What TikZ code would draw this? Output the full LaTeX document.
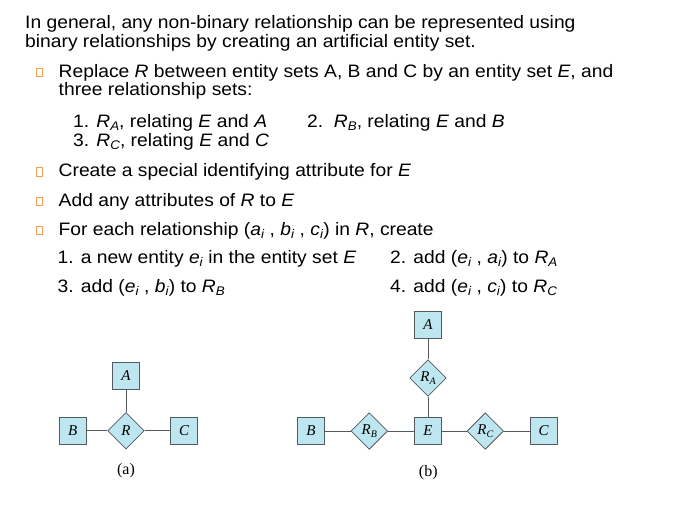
\documentclass[tikz,border=0pt]{standalone}
\usepackage{fontspec}
\setmainfont{Liberation Sans}[FakeStretch=1.07]
\newfontfamily\dfont{Liberation Serif}
\usetikzlibrary{shapes.geometric}
\definecolor{erfill}{RGB}{190,230,240}
\definecolor{erline}{RGB}{80,90,95}
\definecolor{bulletc}{RGB}{245,160,80}
\newcommand\sbs[1]{\raisebox{-0.32ex}{\fontsize{12.5}{12.5}\selectfont #1}}
\newcommand\dsb[1]{\raisebox{-0.4ex}{\fontsize{10}{10}\selectfont #1}}
\tikzset{
  txt/.style={anchor=base west, inner sep=0pt, font=\fontsize{18}{20}\selectfont},
  bul/.style={draw=bulletc, line width=0.9pt},
  ent/.style={draw=erline, fill=erfill, line width=0.8pt, minimum size=27pt, inner sep=0pt, font=\dfont\fontsize{15}{15}\selectfont\itshape},
  rel/.style={diamond, aspect=1, draw=erline, fill=erfill, line width=0.8pt, minimum size=36.6pt, inner sep=0pt, font=\dfont\fontsize{15}{15}\selectfont\itshape},
  conn/.style={draw=erline, line width=0.8pt},
  figcap/.style={font=\dfont\fontsize{16}{16}\selectfont}
}
\begin{document}
\begin{tikzpicture}[x=1pt,y=-1pt]
\useasboundingbox (0,0) rectangle (687,507);
% text
\node[txt] (l1) at (25,28.3) {In general, any non-binary relationship can be represented using};
\node[txt] (l2) at (25,47) {binary relationships by creating an artificial entity set.};
\node[txt] (b1) at (58.5,77.3) {Replace \textit{R} between entity sets A, B and C by an entity set \textit{E}, and};
\node[txt] (b1b) at (58.5,95.8) {three relationship sets:};
\node[txt] (n1) at (73,127) {1. \textit{R}\sbs{\textit{A}}, relating \textit{E} and \textit{A}};
\node[txt] (n2) at (307,127) {2.\ \ \textit{R}\sbs{\textit{B}}, relating \textit{E} and \textit{B}};
\node[txt] (n3) at (73,146.7) {3. \textit{R}\sbs{\textit{C}}, relating \textit{E} and \textit{C}};
\node[txt] (b2) at (58.5,176.7) {Create a special identifying attribute for \textit{E}};
\node[txt] (b3) at (58.5,206) {Add any attributes of \textit{R} to \textit{E}};
\node[txt] (b4) at (58.5,235) {For each relationship (\textit{a}\sbs{\textit{i}} , \textit{b}\sbs{\textit{i}} , \textit{c}\sbs{\textit{i}}) in \textit{R}, create};
\node[txt] (m1) at (57.5,263.5) {1. a new entity \textit{e}\sbs{\textit{i}} in the entity set \textit{E}};
\node[txt] (m2) at (390,263.5) {2. add (\textit{e}\sbs{\textit{i}} , \textit{a}\sbs{\textit{i}}) to \textit{R}\sbs{\textit{A}}};
\node[txt] (m3) at (57.5,292.5) {3. add (\textit{e}\sbs{\textit{i}} , \textit{b}\sbs{\textit{i}}) to \textit{R}\sbs{\textit{B}}};
\node[txt] (m4) at (390,292.5) {4. add (\textit{e}\sbs{\textit{i}} , \textit{c}\sbs{\textit{i}}) to \textit{R}\sbs{\textit{C}}};
% bullets
\foreach \yy in {77.3,176.7,206,235} {
  \draw[bul] (36,\yy-8.8) rectangle (42,\yy-0.5);
}
% diagram (a)
\node[ent] (aA) at (126,375.7) {A};
\node[rel] (aR) at (126,430.7) {R};
\node[ent] (aB) at (72.7,430.7) {B};
\node[ent] (aC) at (184,430.7) {C};
\draw[conn] (aA) -- (aR);
\draw[conn] (aB) -- (aR);
\draw[conn] (aR) -- (aC);
\node[figcap] (capa) at (126,470.7) {(a)};
% diagram (b)
\node[ent] (bA) at (428,325) {A};
\node[rel] (bRA) at (428,378) {R\dsb{A}};
\node[ent] (bE) at (428,431) {E};
\node[ent] (bB) at (311,431) {B};
\node[rel] (bRB) at (369.3,431) {R\dsb{B}};
\node[rel] (bRC) at (485.3,431) {R\dsb{C}};
\node[ent] (bC) at (543.7,431) {C};
\draw[conn] (bA) -- (bRA);
\draw[conn] (bRA) -- (bE);
\draw[conn] (bB) -- (bRB);
\draw[conn] (bRB) -- (bE);
\draw[conn] (bE) -- (bRC);
\draw[conn] (bRC) -- (bC);
\node[figcap] (capb) at (428.3,472.7) {(b)};
\end{tikzpicture}
\end{document}
